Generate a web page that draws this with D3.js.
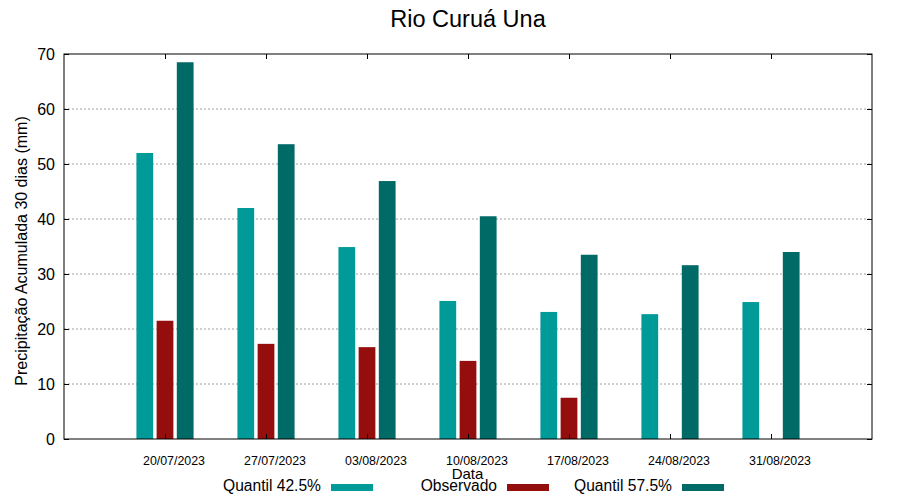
<!DOCTYPE html>
<html>
<head>
<meta charset="utf-8">
<script src="https://cdn.jsdelivr.net/npm/d3@7"></script>
<style>
  html, body { margin: 0; padding: 0; background: #fff; }
  svg { display: block; font-family: "Liberation Sans", Arial, sans-serif; }
</style>
</head>
<body>
<svg id="chart" width="900" height="500"></svg>
<script>
const categories = ["20/07/2023", "27/07/2023", "03/08/2023", "10/08/2023", "17/08/2023", "24/08/2023", "31/08/2023"];
const quantil425 = [52.0, 42.0, 34.9, 25.1, 23.1, 22.7, 24.9];
const observado = [21.5, 17.3, 16.7, 14.2, 7.5, null, null];
const quantil575 = [68.5, 53.6, 46.9, 40.5, 33.5, 31.6, 34.0];
const yTicks = [0, 10, 20, 30, 40, 50, 60, 70];
const seriesNames = ["Quantil 42.5%", "Observado", "Quantil 57.5%"];

const colors = ["#009a99", "#950e0e", "#006a67"];
const seriesData = [quantil425, observado, quantil575];
const offsets = [-0.2, 0, 0.2];
const barW = 0.166;

const svg = d3.select("#chart");
const L = 64, R = 872, T = 54, B = 439;

const x = d3.scaleLinear().domain([0, categories.length + 1]).range([L, R]);
const y = d3.scaleLinear().domain([0, 70]).range([B, T]);

// grid
svg.append("g").selectAll("line")
  .data(yTicks.filter(d => d > 0 && d < 70))
  .join("line")
  .attr("x1", L).attr("x2", R)
  .attr("y1", d => y(d)).attr("y2", d => y(d))
  .attr("stroke", "#a0a0a0").attr("stroke-width", 1)
  .attr("stroke-dasharray", "2,2");

// bars
seriesData.forEach((arr, si) => {
  svg.append("g").selectAll("rect")
    .data(arr.map((v, i) => ({ v, i })).filter(d => d.v != null))
    .join("rect")
    .attr("x", d => x(d.i + 1 + offsets[si] - barW / 2))
    .attr("width", d => x(barW) - x(0))
    .attr("y", d => y(d.v))
    .attr("height", d => y(0) - y(d.v))
    .attr("fill", colors[si]);
});

// axes (ticks inward on all sides)
const tickLen = 5;
const yLeft = svg.append("g").attr("transform", `translate(${L},0)`)
  .call(d3.axisRight(y).tickValues(yTicks).tickSize(tickLen).tickFormat(""));
const yRight = svg.append("g").attr("transform", `translate(${R},0)`)
  .call(d3.axisLeft(y).tickValues(yTicks).tickSize(tickLen).tickFormat(""));
const xTickVals = categories.map((c, i) => i + 1);
const xBottom = svg.append("g").attr("transform", `translate(0,${B})`)
  .call(d3.axisTop(x).tickValues(xTickVals).tickSize(tickLen).tickFormat(""));
const xTop = svg.append("g").attr("transform", `translate(0,${T})`)
  .call(d3.axisBottom(x).tickValues(xTickVals).tickSize(tickLen).tickFormat(""));
[yLeft, yRight, xBottom, xTop].forEach(g => {
  g.select(".domain").remove();
  g.selectAll("line").attr("stroke", "#000").attr("stroke-width", 1);
});

// frame
svg.append("rect").attr("x", L).attr("y", T).attr("width", R - L).attr("height", B - T)
  .attr("fill", "none").attr("stroke", "#000").attr("stroke-width", 1);

// y tick labels
svg.append("g").selectAll("text")
  .data(yTicks).join("text")
  .attr("x", 55).attr("y", d => y(d))
  .attr("dy", "0.36em")
  .attr("text-anchor", "end")
  .attr("font-size", 16)
  .attr("fill", "#000")
  .text(d => d);

// x tick labels
svg.append("g").selectAll("text")
  .data(categories).join("text")
  .attr("x", (d, i) => x(i + 1) + 9)
  .attr("y", 465)
  .attr("text-anchor", "middle")
  .attr("font-size", 12.4)
  .attr("fill", "#000")
  .text(d => d);

// title
svg.append("text").attr("x", 468).attr("y", 27)
  .attr("text-anchor", "middle").attr("font-size", 23.5).text("Rio Curuá Una");

// axis labels
svg.append("text").attr("x", 467.5).attr("y", 479)
  .attr("text-anchor", "middle").attr("font-size", 15).text("Data");
svg.append("text")
  .attr("transform", "translate(26.5,251) rotate(-90)")
  .attr("text-anchor", "middle").attr("font-size", 16)
  .text("Precipitação Acumulada 30 dias (mm)");

// legend
const legendTextRight = [321, 497, 672];
seriesNames.forEach((name, i) => {
  svg.append("text").attr("x", legendTextRight[i]).attr("y", 490.5)
    .attr("text-anchor", "end").attr("font-size", 15.6).text(name);
  svg.append("rect").attr("x", legendTextRight[i] + 10).attr("y", 484)
    .attr("width", 42).attr("height", 7).attr("fill", colors[i]);
});
</script>
</body>
</html>
